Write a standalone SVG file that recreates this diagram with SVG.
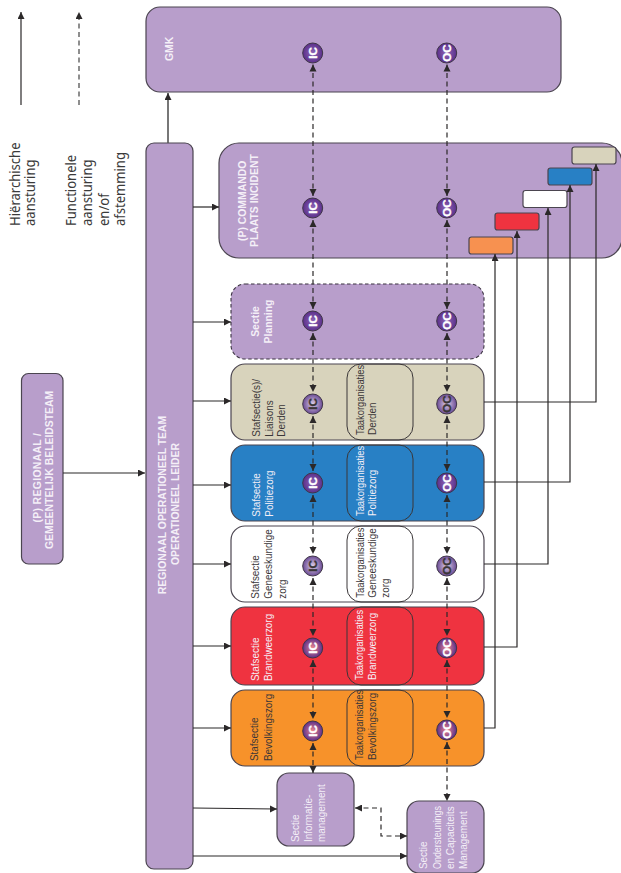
<svg xmlns="http://www.w3.org/2000/svg" width="621" height="873" viewBox="0 0 621 873">
<style>
text{font-family:"Liberation Sans",Arial,sans-serif;font-size:10.6px}
.leg{font-family:"Noto Sans","Open Sans",sans-serif;font-size:14.5px;fill:#3a3a3a}
.w{fill:#f4eff7}.wb{fill:#f4eff7;font-weight:bold;font-size:10.4px}.d{fill:#3a3638}
.m{text-anchor:middle}
.box{stroke:#4b4550;stroke-width:1.2}
.pur{fill:#b89ecb}
.in{fill:none;stroke:#3a3638;stroke-width:1}
.s{fill:none;stroke:#2b2829;stroke-width:1.2;marker-end:url(#a)}
.g{fill:none;stroke:#555;stroke-width:1.6;marker-end:url(#a)}
.da{fill:none;stroke:#2b2829;stroke-width:1.2;stroke-dasharray:5 3.5;marker-start:url(#as);marker-end:url(#a)}
.leg2{fill:none;stroke:#444;stroke-width:1.2;stroke-dasharray:5 3.5;marker-end:url(#a)}
.c{stroke:#3f3547;stroke-width:1}
.ct{font-weight:bold;font-size:11.6px;text-anchor:middle;stroke-width:.35}
.ct.w{stroke:#fff;fill:#fff}.ct.d{stroke:#3a3638}
</style>
<defs>
<marker id="a" markerUnits="userSpaceOnUse" markerWidth="8" markerHeight="8" refX="7" refY="3.5" orient="auto"><path d="M0 0L7 3.5L0 7z" fill="#2b2829"/></marker>
<marker id="as" markerUnits="userSpaceOnUse" markerWidth="8" markerHeight="8" refX="0" refY="3.5" orient="auto"><path d="M7 0L0 3.5L7 7z" fill="#2b2829"/></marker>
<radialGradient id="gd"><stop offset="0" stop-color="#9068b8"/><stop offset="1" stop-color="#5a2f8a"/></radialGradient>
<radialGradient id="gl"><stop offset="0" stop-color="#dcd0e8"/><stop offset="1" stop-color="#6a4a94"/></radialGradient>
<radialGradient id="gh"><stop offset="0" stop-color="#f08a90"/><stop offset="1" stop-color="#5a2f8a"/></radialGradient>
</defs>

<g id="gmk"><rect class="box pur" x="146" y="7" width="415" height="85" rx="14"/><text class="wb" transform="translate(172.5 61) rotate(-90)">GMK</text></g>
<g id="rot"><rect class="box pur" x="146" y="143" width="47" height="726" rx="8"/><text class="wb m" transform="translate(166 505) rotate(-90)">REGIONAAL OPERATIONEEL TEAM</text><text class="wb m" transform="translate(179 504) rotate(-90)">OPERATIONEEL LEIDER</text></g>
<g id="rbt"><rect class="box pur" x="21.5" y="373.5" width="41.5" height="190.5" rx="7"/><text class="wb" textLength="89.5" transform="translate(40.5 522.5) rotate(-90)">(P) REGIONAAL /</text><text class="wb" transform="translate(52.7 549) rotate(-90)">GEMEENTELIJK BELEIDSTEAM</text></g>
<g id="commando"><rect class="box pur" x="219" y="143" width="403" height="115" rx="20"/><text class="wb" transform="translate(246 241) rotate(-90)">(P) COMMANDO</text><text class="wb" transform="translate(258 247) rotate(-90)">PLAATS INCIDENT</text>
<rect class="box" fill="#f79150" x="469" y="237" width="44" height="17" rx="2.5"/><rect class="box" fill="#ef3340" x="495" y="213" width="44" height="17" rx="2.5"/><rect class="box" fill="#fff" x="523" y="190.5" width="44" height="17" rx="2.5"/><rect class="box" fill="#2880c5" x="548" y="168" width="44" height="17" rx="2.5"/><rect class="box" fill="#d8d3bc" x="572" y="147" width="44" height="17" rx="2.5"/></g>
<g id="planning"><rect class="pur" x="231" y="284" width="253" height="75" rx="14" stroke="#3a3340" stroke-width="1.1" stroke-dasharray="3.5 2.5"/><text class="wb m" transform="translate(259 321.5) rotate(-90)">Sectie</text><text class="wb m" transform="translate(272 321.5) rotate(-90)">Planning</text></g>
<g id="derden"><rect class="box" fill="#d8d3bc" x="231" y="364" width="253" height="76" rx="14"/><rect class="in" x="347" y="364" width="66" height="76" rx="14"/><text class="d" transform="translate(260 436.7) rotate(-90) scale(.935 1)">Stafsectie(s)/</text><text class="d" transform="translate(272.7 436.7) rotate(-90) scale(.935 1)">Liaisons</text><text class="d" transform="translate(285 436.7) rotate(-90) scale(.935 1)">Derden</text><text class="d" textLength="75" lengthAdjust="spacingAndGlyphs" transform="translate(363.7 435) rotate(-90) scale(.935 1)">Taakorganisaties</text><text class="d" transform="translate(376 435) rotate(-90) scale(.935 1)">Derden</text></g>
<g id="politie"><rect class="box" fill="#2880c5" x="231" y="445" width="253" height="76" rx="14"/><rect class="in" x="347" y="445" width="66" height="76" rx="14"/><text class="w" transform="translate(260 516.7) rotate(-90) scale(.935 1)">Stafsectie</text><text class="w" transform="translate(272.7 516.7) rotate(-90) scale(.935 1)">Politiezorg</text><text class="w" textLength="75" lengthAdjust="spacingAndGlyphs" transform="translate(363.7 516) rotate(-90) scale(.935 1)">Taakorganisaties</text><text class="w" transform="translate(376 516) rotate(-90) scale(.935 1)">Politiezorg</text></g>
<g id="geneeskundig"><rect class="box" fill="#fff" x="231" y="526" width="253" height="76" rx="14"/><rect class="in" x="347" y="526" width="66" height="76" rx="14"/><text class="d" transform="translate(259 598.7) rotate(-90) scale(.935 1)">Stafsectie</text><text class="d" transform="translate(272 598.7) rotate(-90) scale(.935 1)">Geneeskundige</text><text class="d" transform="translate(286 598.7) rotate(-90) scale(.935 1)">zorg</text><text class="d" textLength="75" lengthAdjust="spacingAndGlyphs" transform="translate(364 597.7) rotate(-90) scale(.935 1)">Taakorganisaties</text><text class="d" transform="translate(376 597.7) rotate(-90) scale(.935 1)">Geneeskundige</text><text class="d" transform="translate(389 597.7) rotate(-90) scale(.935 1)">zorg</text></g>
<g id="brandweer"><rect class="box" fill="#ef3340" x="231" y="607" width="253" height="78" rx="14"/><rect class="in" x="347" y="607" width="66" height="78" rx="14"/><text class="w" transform="translate(259 681) rotate(-90) scale(.935 1)">Stafsectie</text><text class="w" transform="translate(272 681) rotate(-90) scale(.935 1)">Brandweerzorg</text><text class="w" textLength="75" lengthAdjust="spacingAndGlyphs" transform="translate(363 680) rotate(-90) scale(.935 1)">Taakorganisaties</text><text class="w" transform="translate(376 680) rotate(-90) scale(.935 1)">Brandweerzorg</text></g>
<g id="bevolking"><rect class="box" fill="#f7922a" x="231" y="690" width="253" height="76" rx="14"/><rect class="in" x="347" y="690" width="66" height="76" rx="14"/><text class="d" transform="translate(258 761) rotate(-90) scale(.935 1)">Stafsectie</text><text class="d" transform="translate(272 761) rotate(-90) scale(.935 1)">Bevolkingszorg</text><text class="d" textLength="75" lengthAdjust="spacingAndGlyphs" transform="translate(363 760) rotate(-90) scale(.935 1)">Taakorganisaties</text><text class="d" transform="translate(376 760) rotate(-90) scale(.935 1)">Bevolkingszorg</text></g>
<g id="info"><rect class="box pur" x="277" y="773" width="77" height="73" rx="12"/><text class="w" transform="translate(298.7 842) rotate(-90) scale(.935 1)">Sectie</text><text class="w" transform="translate(312 842) rotate(-90) scale(.935 1)">Informatie-</text><text class="w" transform="translate(325 842) rotate(-90) scale(.935 1)">management</text></g>
<g id="ondersteuning"><rect class="box pur" x="407" y="801" width="77" height="72" rx="12"/><text class="w" transform="translate(427 869) rotate(-90) scale(.935 1)">Sectie</text><text class="w" textLength="67.4" lengthAdjust="spacingAndGlyphs" transform="translate(440.7 869) rotate(-90) scale(.935 1)">Ondersteunings</text><text class="w" transform="translate(454 869) rotate(-90) scale(.935 1)">en Capaciteits</text><text class="w" transform="translate(466.7 869) rotate(-90) scale(.935 1)">Management</text></g>

<g id="connectors">
<path class="s" d="M21 105V12"/>
<path class="leg2" d="M79 105V12"/>
<path class="g" d="M168 143V93"/>
<path class="s" d="M63 473H145"/>
<path class="s" d="M193 207H219"/>
<path class="s" d="M193 322H231"/>
<path class="s" d="M193 401H231"/>
<path class="s" d="M193 485H231"/>
<path class="s" d="M193 564H231"/>
<path class="s" d="M193 646H231"/>
<path class="s" d="M193 728H231"/>
<path class="s" d="M193 808L277 809"/>
<path class="s" d="M193 856H407"/>
<path class="s" d="M484 402H596V164"/>
<path class="s" d="M484 482H570V185"/>
<path class="s" d="M484 564H548V208"/>
<path class="s" d="M484 647H517V231"/>
<path class="s" d="M484 728H495V254"/>
<path class="da" d="M355 808H381V836H407"/>
<path class="da" d="M313 64.5V196"/><path class="da" d="M447 64.5V196"/>
<path class="da" d="M313 220V309"/><path class="da" d="M447 220V309"/>
<path class="da" d="M313 333V392"/><path class="da" d="M447 333V392"/>
<path class="da" d="M313 416V471"/><path class="da" d="M447 416V471"/>
<path class="da" d="M313 495V554"/><path class="da" d="M447 495V554"/>
<path class="da" d="M313 578V636"/><path class="da" d="M447 578V636"/>
<path class="da" d="M313 660V719"/><path class="da" d="M447 660V718"/>
<path class="da" d="M313 743V773"/><path class="da" d="M447 742V801"/>
</g>

<g id="markers">
<g id="ic-gmk"><circle class="c" fill="url(#gd)" cx="312.7" cy="53" r="10"/><text class="ct w" transform="translate(316.8 53) rotate(-90)">IC</text></g>
<g id="oc-gmk"><circle class="c" fill="url(#gd)" cx="446.7" cy="53" r="10"/><text class="ct w" transform="translate(450.8 53) rotate(-90)">OC</text></g>
<g id="ic-cpi"><circle class="c" fill="url(#gd)" cx="312.7" cy="208" r="10"/><text class="ct w" transform="translate(316.8 208) rotate(-90)">IC</text></g>
<g id="oc-cpi"><circle class="c" fill="url(#gd)" cx="446.7" cy="208" r="10"/><text class="ct w" transform="translate(450.8 208) rotate(-90)">OC</text></g>
<g id="ic-plan"><circle class="c" fill="url(#gd)" cx="312.7" cy="321" r="10"/><text class="ct w" transform="translate(316.8 321) rotate(-90)">IC</text></g>
<g id="oc-plan"><circle class="c" fill="url(#gd)" cx="446.7" cy="321" r="10"/><text class="ct w" transform="translate(450.8 321) rotate(-90)">OC</text></g>
<g id="ic-derden"><circle class="c" fill="url(#gl)" cx="312.7" cy="404" r="10"/><text class="ct d" transform="translate(316.8 404) rotate(-90)">IC</text></g>
<g id="oc-derden"><circle class="c" fill="url(#gl)" cx="446.7" cy="404" r="10"/><text class="ct d" transform="translate(450.8 404) rotate(-90)">OC</text></g>
<g id="ic-pol"><circle class="c" fill="url(#gd)" cx="312.7" cy="483" r="10"/><text class="ct w" transform="translate(316.8 483) rotate(-90)">IC</text></g>
<g id="oc-pol"><circle class="c" fill="url(#gd)" cx="446.7" cy="483" r="10"/><text class="ct w" transform="translate(450.8 483) rotate(-90)">OC</text></g>
<g id="ic-gen"><circle class="c" fill="url(#gl)" cx="312.7" cy="566" r="10"/><text class="ct d" transform="translate(316.8 566) rotate(-90)">IC</text></g>
<g id="oc-gen"><circle class="c" fill="url(#gl)" cx="446.7" cy="566" r="10"/><text class="ct d" transform="translate(450.8 566) rotate(-90)">OC</text></g>
<g id="ic-brw"><circle class="c" fill="url(#gh)" cx="312.7" cy="648" r="10"/><text class="ct w" transform="translate(316.8 648) rotate(-90)">IC</text></g>
<g id="oc-brw"><circle class="c" fill="url(#gh)" cx="446.7" cy="648" r="10"/><text class="ct w" transform="translate(450.8 648) rotate(-90)">OC</text></g>
<g id="ic-bev"><circle class="c" fill="url(#gh)" cx="312.7" cy="731" r="10"/><text class="ct w" transform="translate(316.8 731) rotate(-90)">IC</text></g>
<g id="oc-bev"><circle class="c" fill="url(#gh)" cx="446.7" cy="730" r="10"/><text class="ct w" transform="translate(450.8 730) rotate(-90)">OC</text></g>
</g>

<g id="legend-text">
<text class="leg" transform="translate(19.5 226) rotate(-90) scale(.9 1)">Hiërarchische</text><text class="leg" transform="translate(35 226) rotate(-90) scale(.9 1)">aansturing</text>
<text class="leg" transform="translate(76 226) rotate(-90) scale(.9 1)">Functionele</text><text class="leg" transform="translate(92 226) rotate(-90) scale(.9 1)">aansturing</text><text class="leg" transform="translate(109 226) rotate(-90) scale(.9 1)">en/of</text><text class="leg" transform="translate(125 226) rotate(-90) scale(.9 1)">afstemming</text>
</g>
</svg>
